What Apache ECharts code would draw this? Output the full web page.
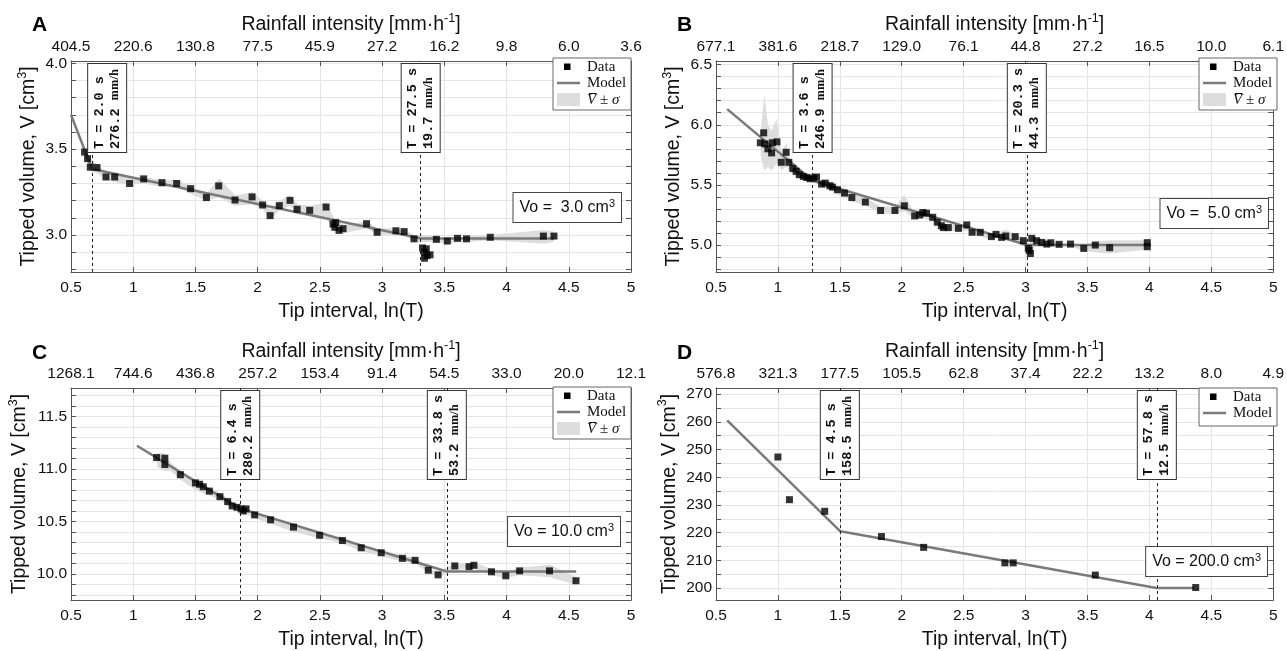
<!DOCTYPE html>
<html><head><meta charset="utf-8">
<script src="https://cdn.jsdelivr.net/npm/echarts@6/dist/echarts.min.js"></script>
<style>html,body{margin:0;padding:0;background:#fff;}#c{width:1287px;height:651px;}</style>
</head><body><div id="c"></div>
<script>
// ---------- Panel A ----------
const aDataX = [0.609,0.633,0.655,0.709,0.781,0.851,0.971,1.084,1.231,1.349,1.461,1.588,1.687,1.818,1.955,2.04,2.10,2.174,2.26,2.317,2.418,2.55,2.606,2.627,2.62,2.654,2.686,2.875,2.96,3.111,3.177,3.256,3.325,3.34,3.355,3.34,3.36,3.385,3.436,3.524,3.606,3.678,3.869,4.296,4.381];
const aDataY = [3.483,3.445,3.395,3.393,3.338,3.338,3.30,3.327,3.305,3.30,3.27,3.218,3.286,3.204,3.222,3.175,3.113,3.171,3.202,3.15,3.144,3.163,3.064,3.072,3.045,3.027,3.037,3.066,3.016,3.025,3.02,2.978,2.925,2.90,2.92,2.865,2.88,2.885,2.975,2.965,2.981,2.978,2.987,2.994,2.994];
const aModelX = [0.5,0.668,3.314,4.38];
const aModelY = [3.70,3.385,2.98,2.98];
const aBandX = [0.61,0.65,0.71,0.78,0.85,0.97,1.08,1.23,1.35,1.46,1.59,1.69,1.82,1.96,2.04,2.10,2.17,2.26,2.32,2.42,2.55,2.62,2.69,2.88,2.96,3.11,3.18,3.26,3.35,3.44,3.52,3.61,3.68,3.87,4.30,4.38];
const aBandLo = [3.45,3.37,3.36,3.32,3.31,3.29,3.30,3.28,3.28,3.24,3.20,3.22,3.17,3.18,3.15,3.09,3.14,3.17,3.12,3.12,3.10,3.02,3.01,3.04,3.00,3.00,3.00,2.96,2.96,2.96,2.95,2.96,2.96,2.97,2.95,2.96];
const aBandHi = [3.50,3.45,3.41,3.37,3.36,3.33,3.34,3.32,3.32,3.29,3.24,3.33,3.23,3.25,3.20,3.15,3.20,3.23,3.18,3.17,3.19,3.09,3.06,3.08,3.04,3.04,3.03,3.00,3.00,2.99,2.98,2.99,2.99,3.00,3.03,3.02];
const aBreakX = [0.668,3.314];
const aBreakT = ['T = 2.0 s','T = 27.5 s'];
const aBreakI = ['276.2','19.7'];
const aTop = ['404.5','220.6','130.8','77.5','45.9','27.2','16.2','9.8','6.0','3.6'];
const aVo = '3.0';
// ---------- Panel B ----------
const bDataX = [0.858,0.885,0.895,0.919,0.949,0.955,0.992,1.027,1.067,1.088,1.12,1.147,1.173,1.206,1.232,1.259,1.288,1.312,1.353,1.382,1.42,1.441,1.481,1.538,1.597,1.706,1.829,1.945,2.021,2.104,2.144,2.17,2.2,2.25,2.287,2.32,2.336,2.376,2.458,2.525,2.568,2.634,2.724,2.761,2.806,2.84,2.916,2.982,3.022,3.039,3.03,3.05,3.089,3.131,3.171,3.204,3.271,3.363,3.47,3.563,3.679,3.983,3.983];
const bDataY = [5.85,5.933,5.841,5.80,5.766,5.85,5.858,5.688,5.771,5.688,5.637,5.613,5.585,5.571,5.562,5.551,5.557,5.565,5.507,5.515,5.493,5.482,5.46,5.432,5.395,5.357,5.287,5.287,5.326,5.242,5.25,5.27,5.265,5.231,5.19,5.161,5.145,5.145,5.139,5.167,5.106,5.106,5.07,5.089,5.064,5.075,5.07,5.036,4.972,4.93,4.955,5.056,5.036,5.022,5.008,5.019,5.006,5.008,4.972,5.0,4.978,5.02,4.986];
const bModelX = [0.59,1.281,3.011,3.98];
const bModelY = [6.13,5.535,5.0,5.0];
const bBandX = [0.86,0.89,0.92,0.95,0.99,1.03,1.07,1.09,1.12,1.15,1.20,1.26,1.31,1.35,1.42,1.48,1.54,1.60,1.71,1.83,1.95,2.02,2.10,2.17,2.25,2.32,2.40,2.46,2.53,2.60,2.70,2.76,2.84,2.92,2.98,3.03,3.05,3.09,3.17,3.27,3.36,3.47,3.56,3.68,3.98];
const bBandLo = [5.75,5.62,5.65,5.62,5.68,5.62,5.65,5.62,5.59,5.56,5.54,5.53,5.52,5.48,5.46,5.42,5.40,5.36,5.33,5.26,5.26,5.28,5.22,5.22,5.20,5.13,5.12,5.11,5.12,5.08,5.05,5.06,5.05,5.05,5.02,4.92,4.95,5.01,4.99,4.99,4.99,4.95,4.94,4.93,4.96];
const bBandHi = [5.92,6.25,6.00,5.95,6.05,5.78,5.85,5.73,5.68,5.66,5.60,5.58,5.60,5.53,5.53,5.48,5.46,5.42,5.39,5.32,5.32,5.42,5.27,5.30,5.25,5.18,5.17,5.16,5.18,5.12,5.09,5.10,5.13,5.09,5.06,5.00,5.08,5.06,5.03,5.02,5.02,5.00,5.03,5.04,5.04];
const bBreakX = [1.281,3.011];
const bBreakT = ['T = 3.6 s','T = 20.3 s'];
const bBreakI = ['246.9','44.3'];
const bTop = ['677.1','381.6','218.7','129.0','76.1','44.8','27.2','16.5','10.0','6.1'];
const bVo = '5.0';
// ---------- Panel C ----------
const cDataX = [1.188,1.254,1.254,1.379,1.5,1.533,1.563,1.612,1.697,1.759,1.795,1.834,1.867,1.884,1.907,1.976,2.104,2.288,2.498,2.681,2.832,2.993,3.163,3.265,3.371,3.45,3.584,3.699,3.738,3.879,3.994,4.105,4.345,4.558];
const cDataY = [11.108,11.102,11.042,10.945,10.867,10.854,10.83,10.789,10.736,10.689,10.648,10.635,10.62,10.6,10.62,10.563,10.516,10.447,10.369,10.319,10.25,10.203,10.15,10.131,10.037,9.993,10.078,10.071,10.084,10.022,9.984,10.031,10.031,9.937];
const cModelX = [1.03,1.856,3.52,4.56];
const cModelY = [11.22,10.625,10.025,10.025];
const cBandX = [1.19,1.25,1.30,1.38,1.50,1.56,1.61,1.70,1.80,1.88,1.98,2.10,2.29,2.50,2.68,2.83,2.99,3.16,3.27,3.37,3.45,3.58,3.70,3.74,3.88,3.99,4.10,4.35,4.56];
const cBandLo = [11.02,10.98,10.98,10.90,10.80,10.77,10.75,10.70,10.62,10.58,10.53,10.48,10.40,10.34,10.29,10.22,10.17,10.12,10.10,10.01,9.97,10.04,10.05,10.05,9.99,9.96,9.99,9.97,9.90];
const cBandHi = [11.15,11.15,11.06,10.98,10.90,10.87,10.82,10.77,10.68,10.64,10.59,10.55,10.48,10.40,10.35,10.28,10.23,10.18,10.16,10.06,10.02,10.10,10.10,10.11,10.05,10.01,10.06,10.09,9.97];
const cBreakX = [1.856,3.520];
const cBreakT = ['T = 6.4 s','T = 33.8 s'];
const cBreakI = ['280.2','53.2'];
const cTop = ['1268.1','744.6','436.8','257.2','153.4','91.4','54.5','33.0','20.0','12.1'];
const cVo = '10.0';
// ---------- Panel D ----------
const dDataX = [1.0,1.093,1.378,1.836,2.177,2.833,2.9,3.563,4.374];
const dDataY = [247.3,231.9,227.7,218.6,214.7,209.1,209.1,204.7,200.2];
const dModelX = [0.59,1.504,4.057,4.36];
const dModelY = [260.5,220.5,200,200];
const dBreakX = [1.504,4.057];
const dBreakT = ['T = 4.5 s','T = 57.8 s'];
const dBreakI = ['158.5','12.5'];
const dTop = ['576.8','321.3','177.5','105.5','62.8','37.4','22.2','13.2','8.0','4.9'];
const dVo = '200.0';

// ---------- styling / layout ----------
const SANS = 'Liberation Sans', SERIF = 'Liberation Serif', MONO = 'Liberation Mono';
const FRAME = '#555', GRID = '#e4e4e4', MODEL = '#7a7a7a', BAND = '#dddddd', TXT = '#111';
const grids = [
  {left:71, top:61, width:560, height:211},
  {left:716, top:61, width:561, height:211},
  {left:71, top:388, width:560, height:215},
  {left:716, top:388, width:561, height:215}
];
const yCfg = [
  {min:2.785, max:4.013, step:0.1, lab:0.5},
  {min:4.776, max:6.53, step:0.1, lab:0.5},
  {min:9.754, max:11.769, step:0.1, lab:0.5},
  {min:195.7, max:272.2, step:5, lab:10}
];
const zip = (xs, ys) => xs.map((x, i) => [x, ys[i]]);
const nameRich = {sup:{fontFamily:SANS, fontSize:12.5, lineHeight:10, verticalAlign:'top', color:TXT}};
const axisLineS = {show:true, onZero:false, lineStyle:{color:FRAME, width:1}};
const tickS = {show:true, inside:true, length:5, lineStyle:{color:FRAME, width:1}};

const xAxis = [], yAxis = [];
const tops = [aTop, bTop, cTop, dTop];
for (let g = 0; g < 4; g++) {
  xAxis.push({type:'value', gridIndex:g, min:0.5, max:5, interval:0.5, position:'bottom',
    name:'Tip interval, ln(T)', nameLocation:'middle', nameGap:30,
    nameTextStyle:{fontFamily:SANS, fontSize:19.5, color:TXT},
    axisLine:axisLineS, axisTick:tickS,
    axisLabel:{margin:8, fontFamily:SANS, fontSize:15.5, color:TXT},
    splitLine:{show:true, lineStyle:{color:GRID, width:1}}});
  const tl = tops[g];
  xAxis.push({type:'value', gridIndex:g, min:0.5, max:5, interval:0.5, position:'top',
    name:'Rainfall intensity [mm·h{sup|-1}]', nameLocation:'middle', nameGap:21,
    nameTextStyle:{fontFamily:SANS, fontSize:19.5, color:TXT, lineHeight:26, rich:nameRich},
    axisLine:axisLineS, axisTick:tickS,
    axisLabel:{margin:6, fontFamily:SANS, fontSize:15.5, color:TXT,
      formatter: v => tl[Math.round((v - 0.5) / 0.5)] || ''},
    splitLine:{show:false}});
  const yc = yCfg[g];
  const fmtY = v => {
    const k = v / yc.lab;
    if (Math.abs(k - Math.round(k)) > 1e-6) return '';
    return yc.lab < 1 ? v.toFixed(1) : String(Math.round(v));
  };
  yAxis.push({type:'value', gridIndex:g, min:yc.min, max:yc.max, minInterval:yc.step, maxInterval:yc.step,
    splitNumber:Math.round((yc.max - yc.min) / yc.step), position:'left',
    name:'Tipped volume, V [cm{sup|3}]', nameLocation:'middle', nameGap:20,
    nameTextStyle:{fontFamily:SANS, fontSize:19.5, color:TXT, lineHeight:26, rich:nameRich},
    axisLine:axisLineS, axisTick:tickS,
    axisLabel:{margin:4, fontFamily:SANS, fontSize:15.5, color:TXT, formatter:fmtY},
    splitLine:{show:true, lineStyle:{color:GRID, width:1}}});
  yAxis.push({type:'value', gridIndex:g, min:yc.min, max:yc.max, minInterval:yc.step, maxInterval:yc.step,
    splitNumber:Math.round((yc.max - yc.min) / yc.step), position:'right',
    axisLine:axisLineS, axisTick:tickS, axisLabel:{show:false}, splitLine:{show:false}});
}

function bandSeries(g, xs, lo, hi) {
  return {type:'custom', xAxisIndex:2*g, yAxisIndex:2*g, clip:true, silent:true, z:1,
    data: xs.map((x, i) => [x, lo[i], hi[i]]),
    encode:{x:0, y:[1,2]},
    renderItem: function (params, api) {
      if (params.dataIndex !== 0) return null;
      const pts = [];
      for (let i = 0; i < xs.length; i++) pts.push(api.coord([xs[i], hi[i]]));
      for (let i = xs.length - 1; i >= 0; i--) pts.push(api.coord([xs[i], lo[i]]));
      return {type:'polygon', shape:{points:pts}, style:{fill:BAND}};
    }};
}
const breakRich = {
  a:{fontFamily:MONO, fontSize:13.5, fontWeight:'bold', lineHeight:16, width:82, align:'left', color:'#111'},
  b:{fontFamily:MONO, fontSize:13.5, fontWeight:'bold', lineHeight:16, align:'left', color:'#111'},
  u:{fontFamily:SERIF, fontSize:12.5, fontWeight:'bold', lineHeight:16, width:33, align:'left', color:'#111'}
};
function modelSeries(g, mx, my, bx, bt, bi, shiftFirst) {
  return {type:'line', xAxisIndex:2*g, yAxisIndex:2*g, data:zip(mx, my), symbol:'none', silent:true, z:2,
    lineStyle:{color:MODEL, width:2.5}, animation:false,
    markLine:{symbol:['none','none'], silent:true, animation:false,
      lineStyle:{type:[3,3], color:'#222', width:1},
      label:{show:true, position:'insideEnd', distance:[3,0], backgroundColor:'#fff', borderColor:'#333',
        borderWidth:1, padding:[3,3,3,3], fontFamily:MONO, fontSize:13.5, lineHeight:16, color:'#111', rich:breakRich},
      data: bx.map((x, i) => {
        const it = {xAxis:x, label:{formatter:'{a|' + bt[i] + '}\n{b|' + bi[i] + ' }{u|mm/h}'}};
        if (i === 0 && shiftFirst) { it.label.position = 'insideEndBottom'; it.label.distance = [3, -4]; }
        return it;
      })}};
}
function dataSeries(g, xs, ys) {
  return {type:'scatter', xAxisIndex:2*g, yAxisIndex:2*g, data:zip(xs, ys), symbol:'rect', symbolSize:7,
    itemStyle:{color:'#000'}, z:3, silent:true};
}
const series = [
  bandSeries(0, aBandX, aBandLo, aBandHi), modelSeries(0, aModelX, aModelY, aBreakX, aBreakT, aBreakI, true), dataSeries(0, aDataX, aDataY),
  bandSeries(1, bBandX, bBandLo, bBandHi), modelSeries(1, bModelX, bModelY, bBreakX, bBreakT, bBreakI, false), dataSeries(1, bDataX, bDataY),
  bandSeries(2, cBandX, cBandLo, cBandHi), modelSeries(2, cModelX, cModelY, cBreakX, cBreakT, cBreakI, false), dataSeries(2, cDataX, cDataY),
  modelSeries(3, dModelX, dModelY, dBreakX, dBreakT, dBreakI, false), dataSeries(3, dDataX, dDataY)
];

const ZG = 100;
function legendGroup(x, y, withBand) {
  const h = withBand ? 52 : 38;
  const ch = [
    {type:'rect', z:ZG, shape:{x:0, y:0, width:78, height:h}, style:{fill:'#fff', stroke:'#666', lineWidth:1}},
    {type:'rect', z:ZG+1, shape:{x:11, y:5.5, width:6.5, height:6.5}, style:{fill:'#000'}},
    {type:'text', z:ZG+1, x:34, y:9, style:{text:'Data', fontFamily:SERIF, fontSize:15, fill:TXT, verticalAlign:'middle'}},
    {type:'line', z:ZG+1, shape:{x1:4, y1:25, x2:27, y2:25}, style:{stroke:MODEL, lineWidth:2.5}},
    {type:'text', z:ZG+1, x:34, y:25, style:{text:'Model', fontFamily:SERIF, fontSize:15, fill:TXT, verticalAlign:'middle'}}
  ];
  if (withBand) {
    ch.push({type:'rect', z:ZG+1, shape:{x:4, y:35, width:23, height:13}, style:{fill:BAND}});
    ch.push({type:'text', z:ZG+1, x:34, y:42, style:{text:'{i|V\u0305} ± {i|σ}', fontFamily:SERIF, fontSize:15, fill:TXT,
      verticalAlign:'middle', rich:{i:{fontFamily:SERIF, fontSize:15, fontStyle:'italic'}}}});
  }
  return {type:'group', x:x, y:y, z:ZG, children:ch};
}
function voBox(xr, y, v) {
  return {type:'text', z:ZG, x:xr, y:y, style:{text:'Vo = ' + (v.length < 4 ? ' ' : '') + v + ' cm{sup|3}',
    align:'right', verticalAlign:'top', fontFamily:SANS, fontSize:16, lineHeight:20, fill:TXT,
    backgroundColor:'#fff', borderColor:'#444', borderWidth:1, padding:[5,6,4,6],
    rich:{sup:{fontFamily:SANS, fontSize:11, lineHeight:11, verticalAlign:'top'}}}};
}
function letter(x, y, t) {
  return {type:'text', z:ZG, x:x, y:y, style:{text:t, fontFamily:SANS, fontWeight:'bold', fontSize:21, fill:'#000', verticalAlign:'top'}};
}
const graphic = [
  letter(32, 14.5, 'A'), letter(677, 14.5, 'B'), letter(32, 343, 'C'), letter(677, 343, 'D'),
  legendGroup(553, 58, true), legendGroup(1199, 58, true), legendGroup(553, 387, true), legendGroup(1199, 388, false),
  voBox(621, 193, aVo), voBox(1268, 199, bVo), voBox(620, 517, cVo), voBox(1267, 547, dVo)
];

const chart = echarts.init(document.getElementById('c'), null, {renderer:'canvas'});
chart.setOption({animation:false, backgroundColor:'#fff', grid:grids, xAxis:xAxis, yAxis:yAxis, series:series, graphic:graphic});
</script></body></html>
